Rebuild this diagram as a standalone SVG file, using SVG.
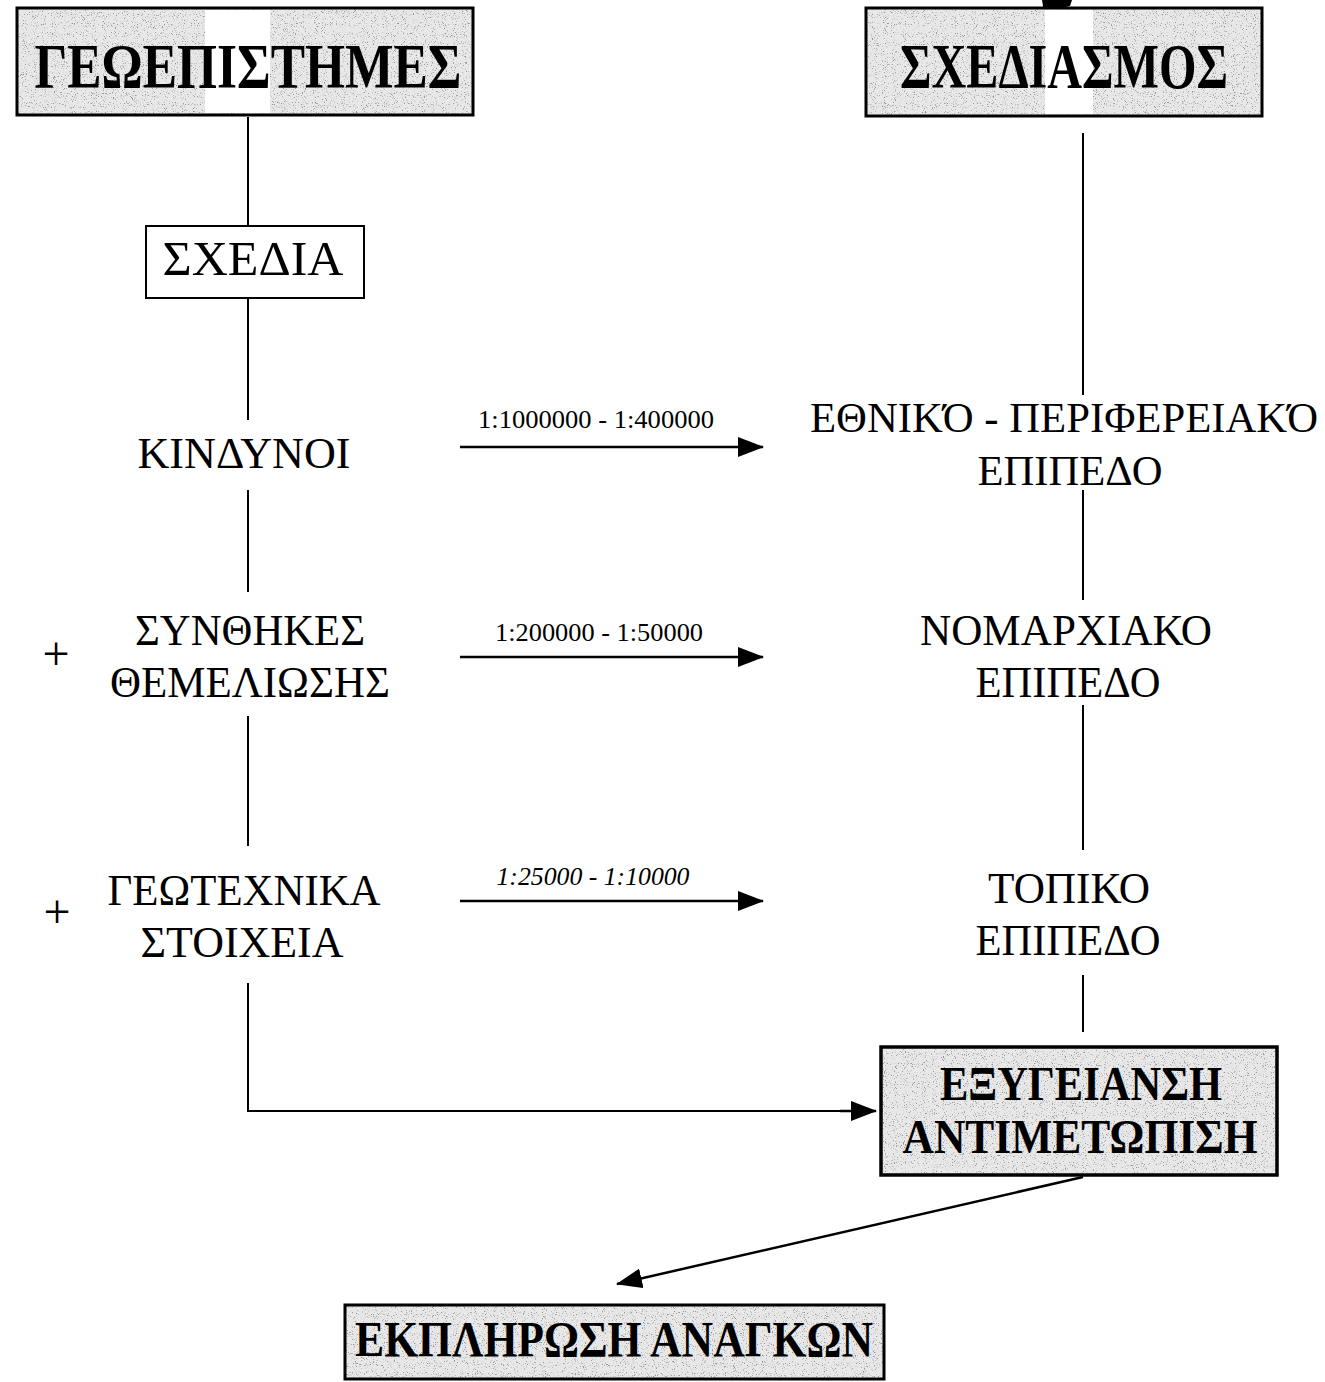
<svg xmlns="http://www.w3.org/2000/svg" width="1325" height="1382" viewBox="0 0 1325 1382">
<style>
  .box { stroke: #000; stroke-width: 3; }
  .plain { fill: #fff; stroke: #000; stroke-width: 2; }
  .t { font-family: "Liberation Serif", "Times New Roman", serif; fill: #000; text-anchor: middle; }
  .b { font-weight: bold; }
  .ln { stroke: #000; stroke-width: 2; fill: none; }
  .arr { stroke: #000; stroke-width: 2.5; fill: none; marker-end: url(#ah2); }
</style>
<defs>
  <marker id="ah2" markerWidth="26" markerHeight="20" refX="25" refY="10" orient="auto" markerUnits="userSpaceOnUse" viewBox="0 0 26 20">
    <path d="M0,0 L26,10 L0,20 z" fill="#000"/>
  </marker>
  <filter id="speckle" x="0" y="0" width="100%" height="100%">
    <feTurbulence type="fractalNoise" baseFrequency="0.9" numOctaves="2" seed="7" result="n"/>
    <feColorMatrix in="n" type="matrix" values="0 0 0 0 0.3  0 0 0 0 0.3  0 0 0 0 0.3  6 0 0 0 -3.5" result="dots"/>
    <feFlood flood-color="#e8e8e8" result="bg"/>
    <feComposite in="dots" in2="bg" operator="over"/>
  </filter>
</defs>

<g id="connectors">
  <line class="ln" x1="248" y1="117" x2="248" y2="226"/>
  <line class="ln" x1="248" y1="298" x2="248" y2="420"/>
  <line class="ln" x1="248" y1="490" x2="248" y2="592"/>
  <line class="ln" x1="248" y1="716" x2="248" y2="846"/>
  <polyline class="ln" points="248,983 248,1111 850,1111"/>
  <line class="arr" x1="840" y1="1111" x2="876" y2="1111"/>
  <line class="ln" x1="1083" y1="133" x2="1083" y2="395"/>
  <line class="ln" x1="1083" y1="490" x2="1083" y2="600"/>
  <line class="ln" x1="1083" y1="705" x2="1083" y2="850"/>
  <line class="ln" x1="1083" y1="975" x2="1083" y2="1032"/>
  <line class="arr" x1="460" y1="447" x2="763" y2="447"/>
  <line class="arr" x1="460" y1="657" x2="763" y2="657"/>
  <line class="arr" x1="460" y1="901" x2="763" y2="901"/>
  <line class="arr" x1="1083" y1="1177" x2="617" y2="1284"/>
  <path d="M1042,0 L1072,0 L1070,6 L1044,12 z" fill="#000"/>
  <text class="t" x="596" y="428" font-size="25" textLength="236" lengthAdjust="spacingAndGlyphs">1:1000000 - 1:400000</text>
  <text class="t" x="599" y="641" font-size="25" textLength="208" lengthAdjust="spacingAndGlyphs">1:200000 - 1:50000</text>
  <text class="t" x="593" y="885" font-size="25" font-style="italic" textLength="193" lengthAdjust="spacingAndGlyphs">1:25000 - 1:10000</text>
</g>

<g id="geoepistimes">
  <rect class="box" x="17" y="8" width="456" height="107" fill="#e8e8e8" filter="url(#speckle)"/>
  <rect x="205" y="10" width="65" height="103" fill="#fff"/>
  <rect x="17" y="8" width="456" height="107" fill="none" stroke="#000" stroke-width="3"/>
  <text class="t b" x="248" y="88" font-size="64" textLength="427" lengthAdjust="spacingAndGlyphs">ΓΕΩΕΠΙΣΤΗΜΕΣ</text>
</g>

<g id="sxediasmos">
  <rect class="box" x="866" y="8" width="396" height="108" fill="#e8e8e8" filter="url(#speckle)"/>
  <rect x="1045" y="10" width="48" height="104" fill="#fff"/>
  <rect x="866" y="8" width="396" height="108" fill="none" stroke="#000" stroke-width="3"/>
  <text class="t b" x="1064" y="88" font-size="64" textLength="328" lengthAdjust="spacingAndGlyphs">ΣΧΕΔΙΑΣΜΟΣ</text>
</g>

<g id="sxedia">
  <rect class="plain" x="146" y="226" width="218" height="72"/>
  <text class="t" x="253" y="275" font-size="48" textLength="181" lengthAdjust="spacingAndGlyphs">ΣΧΕΔΙΑ</text>
</g>

<g id="kindynoi">
  <text class="t" x="244" y="468" font-size="45" textLength="213" lengthAdjust="spacingAndGlyphs">ΚΙΝΔΥΝΟΙ</text>
</g>

<g id="synthikes">
  <text class="t" x="56" y="670" font-size="48">+</text>
  <text class="t" x="250" y="645" font-size="45" textLength="230" lengthAdjust="spacingAndGlyphs">ΣΥΝΘΗΚΕΣ</text>
  <text class="t" x="250" y="697" font-size="45" textLength="280" lengthAdjust="spacingAndGlyphs">ΘΕΜΕΛΙΩΣΗΣ</text>
</g>

<g id="geotechnika">
  <text class="t" x="57" y="928" font-size="48">+</text>
  <text class="t" x="244" y="905" font-size="45" textLength="273" lengthAdjust="spacingAndGlyphs">ΓΕΩΤΕΧΝΙΚΑ</text>
  <text class="t" x="242" y="957" font-size="45" textLength="203" lengthAdjust="spacingAndGlyphs">ΣΤΟΙΧΕΙΑ</text>
</g>

<g id="ethniko">
  <text class="t" x="1064" y="432" font-size="43" textLength="508" lengthAdjust="spacingAndGlyphs">ΕΘΝΙΚΌ - ΠΕΡΙΦΕΡΕΙΑΚΌ</text>
  <text class="t" x="1070" y="485" font-size="43" textLength="185" lengthAdjust="spacingAndGlyphs">ΕΠΙΠΕΔΟ</text>
</g>

<g id="nomarchiako">
  <text class="t" x="1066" y="645" font-size="45" textLength="292" lengthAdjust="spacingAndGlyphs">ΝΟΜΑΡΧΙΑΚΟ</text>
  <text class="t" x="1068" y="697" font-size="45" textLength="185" lengthAdjust="spacingAndGlyphs">ΕΠΙΠΕΔΟ</text>
</g>

<g id="topiko">
  <text class="t" x="1069" y="903" font-size="45" textLength="162" lengthAdjust="spacingAndGlyphs">ΤΟΠΙΚΟ</text>
  <text class="t" x="1068" y="955" font-size="45" textLength="185" lengthAdjust="spacingAndGlyphs">ΕΠΙΠΕΔΟ</text>
</g>

<g id="exygeiansi">
  <rect class="box" x="881" y="1047" width="396" height="128" fill="#e8e8e8" filter="url(#speckle)"/>
  <rect x="881" y="1047" width="396" height="128" fill="none" stroke="#000" stroke-width="3.5"/>
  <text class="t b" x="1081" y="1100" font-size="48" textLength="282" lengthAdjust="spacingAndGlyphs">ΕΞΥΓΕΙΑΝΣΗ</text>
  <text class="t b" x="1080" y="1153" font-size="48" textLength="355" lengthAdjust="spacingAndGlyphs">ΑΝΤΙΜΕΤΩΠΙΣΗ</text>
</g>

<g id="ekplirosi">
  <rect class="box" x="345" y="1305" width="539" height="74" fill="#e8e8e8" filter="url(#speckle)"/>
  <rect x="345" y="1305" width="539" height="74" fill="none" stroke="#000" stroke-width="3"/>
  <text class="t b" x="614" y="1356" font-size="50" textLength="518" lengthAdjust="spacingAndGlyphs">ΕΚΠΛΗΡΩΣΗ ΑΝΑΓΚΩΝ</text>
</g>
</svg>
